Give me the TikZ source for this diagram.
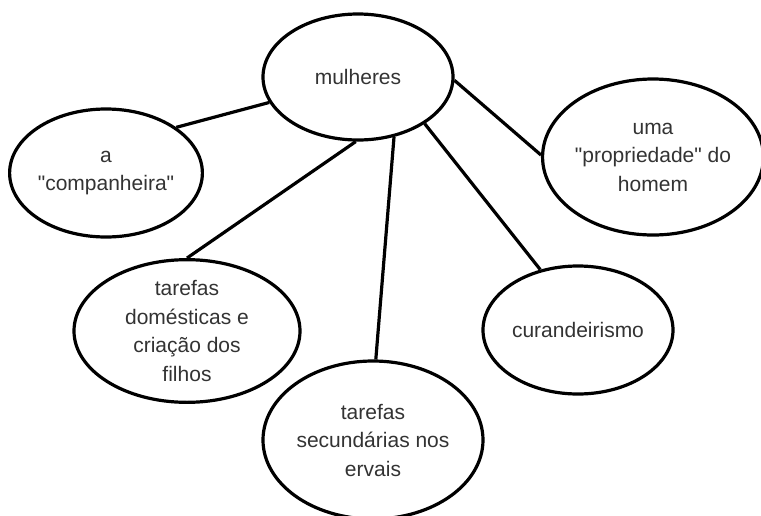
\documentclass[tikz,border=0pt]{standalone}
\usepackage{fontspec}
\setmainfont{Liberation Sans}[Ligatures=TeXOff]
\usetikzlibrary{shapes.geometric}
\definecolor{txt}{RGB}{51,51,51}
\begin{document}
\begin{tikzpicture}[x=1pt,y=-1pt,
  bubble/.style={ellipse,draw=black,line width=3.2pt,fill=white,inner sep=0pt,
    text=txt,align=center,font=\fontsize{21}{28.5}\selectfont},
  link/.style={line width=3.2pt,draw=black}]
\useasboundingbox (0,0) rectangle (761,515);
\node[bubble,minimum width=190pt,minimum height=126pt] (m) at (358,77) {mulheres};
\node[bubble,minimum width=192pt,minimum height=128pt] (c) at (106,173) {a\\"companheira"};
\node[bubble,minimum width=214pt,minimum height=156pt] (p) at (653,157) {uma\\"propriedade" do\\homem};
\node[bubble,minimum width=226pt,minimum height=132pt] (d) at (187,331) {tarefas\\domésticas e\\criação dos\\filhos};
\node[bubble,minimum width=190pt,minimum height=128pt] (k) at (578,330) {curandeirismo};
\node[bubble,minimum width=220pt,minimum height=158pt] (s) at (373,440) {tarefas\\secundárias nos\\ervais};
\draw[link] (m.196) -- (c.33.5);
\draw[link] (m.268) -- (d.90);
\draw[link] (m.301) -- (s.88.5);
\draw[link] (m.325) -- (k.122);
\draw[link] (m.358) -- (p.179);
\end{tikzpicture}
\end{document}
